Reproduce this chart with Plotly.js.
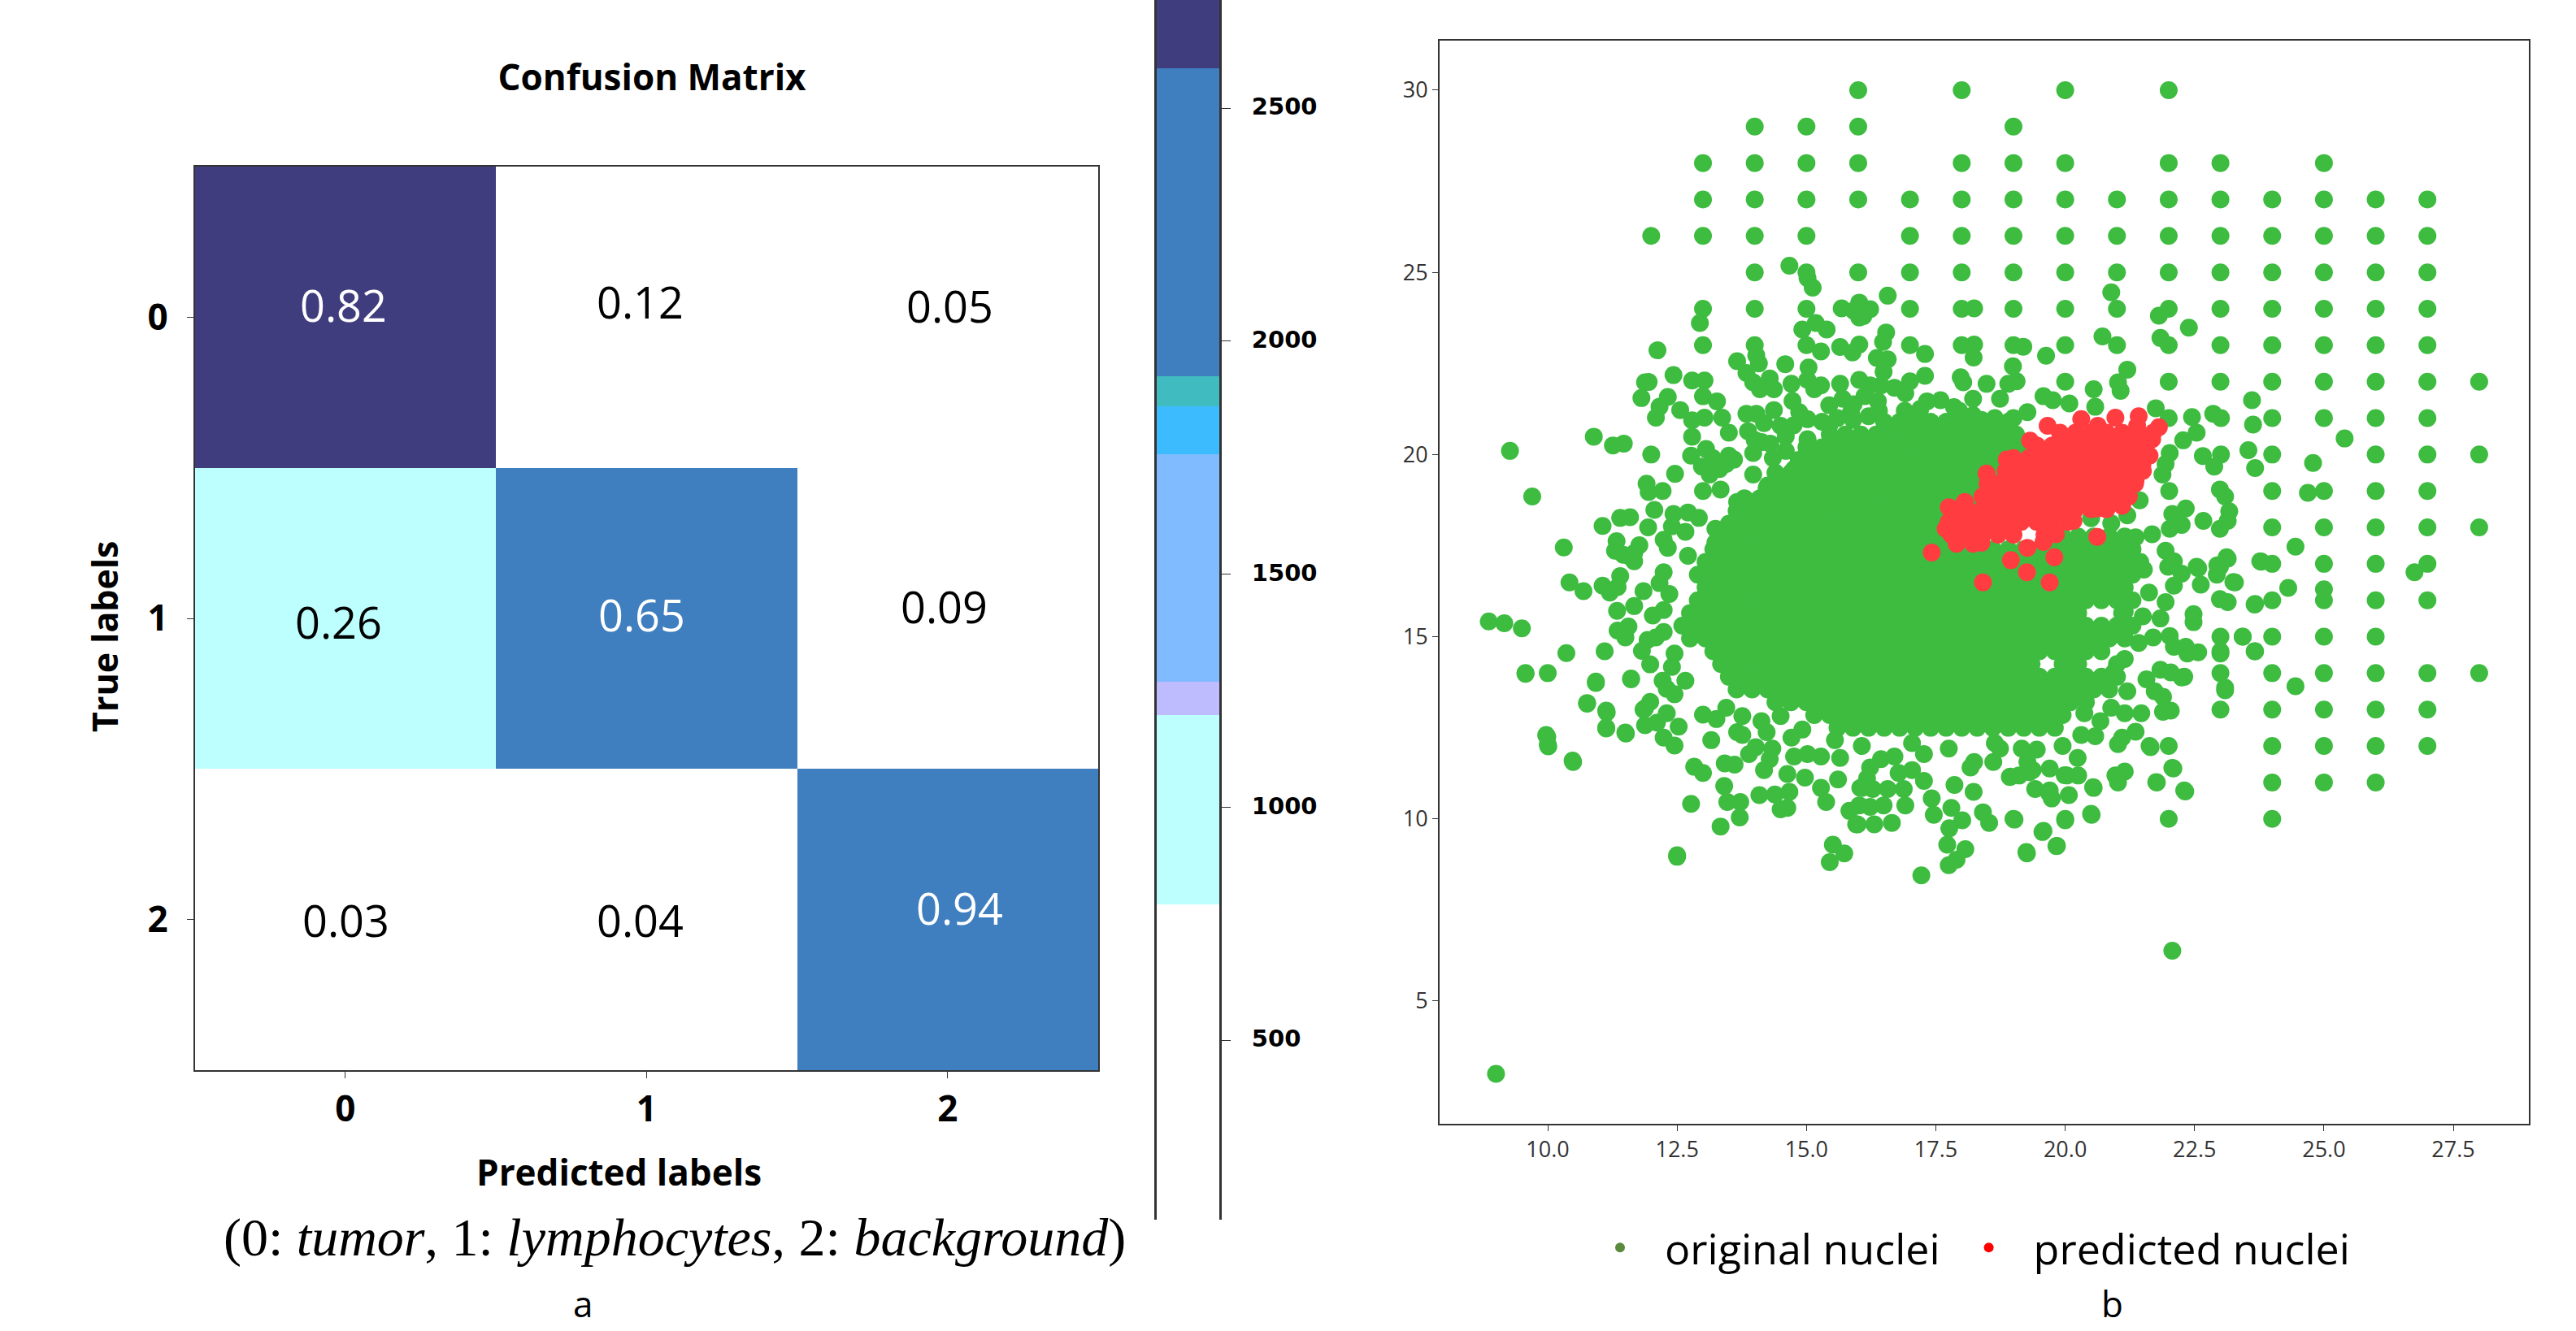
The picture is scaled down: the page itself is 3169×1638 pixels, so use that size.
<!DOCTYPE html>
<html>
<head>
<meta charset="utf-8">
<script src="https://cdn.plot.ly/plotly-3.0.1.min.js"></script>
<style>html,body{margin:0;padding:0;background:#fff}</style>
</head>
<body>
<div id="myDiv"></div>
<script>
// confusion matrix
const predictedLabels = [0, 1, 2];
const trueLabels = [0, 1, 2];
const cellRatios = [
  [0.82, 0.12, 0.05],
  [0.26, 0.65, 0.09],
  [0.03, 0.04, 0.94]
];
// counts are estimated from the colour of each cell against the bar
const cellCounts = [
  [2650, 390, 160],
  [900, 2050, 280],
  [100, 130, 2300]
];

// colour bar bands
const bandEdges = [115, 791, 1197, 1269, 1757, 1861, 1925, 2585, 2732];
const bandColors = ['#ffffff', '#bdffff', '#bfbbff', '#80bbff', '#3dbbff', '#40bbbf', '#3f7ebf', '#403d7e'];
const barTicks = [500, 1000, 1500, 2000, 2500];

// nuclei lying on whole number positions: [y, x, x, ...]
const gridRows = [
  [30, 16, 18, 20, 22],
  [29, 14, 15, 16, 19],
  [28, 13, 14, 15, 16, 18, 19, 20, 22, 23, 25],
  [27, 13, 14, 15, 16, 17, 18, 19, 20, 21, 22, 23, 24, 25, 26, 27],
  [26, 12, 13, 14, 15, 17, 18, 19, 20, 21, 22, 23, 24, 25, 26, 27],
  [25, 14, 15, 16, 17, 18, 19, 20, 21, 22, 23, 24, 25, 26, 27],
  [24, 13, 14, 15, 17, 18, 19, 20, 21, 22, 23, 24, 25, 26, 27],
  [23, 13, 14, 15, 17, 18, 19, 20, 21, 22, 23, 24, 25, 26, 27],
  [22, 20, 22, 23, 24, 25, 26, 27, 28],
  [21, 22, 24, 25, 26, 27],
  [20, 12, 24, 26, 27, 28],
  [19, 24, 25, 26, 27],
  [18, 24, 25, 26, 27, 28],
  [17, 24, 25, 26, 27],
  [16, 24, 25, 26, 27],
  [15, 23, 24, 25, 26],
  [14, 10, 23, 24, 25, 26, 27, 28],
  [13, 23, 24, 25, 26, 27],
  [12, 24, 25, 26, 27],
  [11, 24, 25, 26],
  [10, 22, 24]
];

// the solid middle of the cloud, single points can't be told apart here: [y, x, x, ...]
const coreRows = [
  [20.9, 16.5,16.8,17.1,17.4,17.7,18.0,18.3,18.6,18.9],
  [20.55, 15.45,15.75,16.05,16.35,16.65,16.95,17.25,17.55,17.85,18.15,18.45,18.75,19.05],
  [20.2, 15.0,15.3,15.6,15.9,16.2,16.5,16.8,17.1,17.4,17.7,18.0,18.3,18.6,18.9,19.2],
  [19.85, 14.85,15.15,15.45,15.75,16.05,16.35,16.65,16.95,17.25,17.55,17.85,18.15,18.45,18.75,19.05],
  [19.5, 14.4,14.7,15.0,15.3,15.6,15.9,16.2,16.5,16.8,17.1,17.4,17.7,18.0,18.3,18.6,18.9],
  [19.15, 14.25,14.55,14.85,15.15,15.45,15.75,16.05,16.35,16.65,16.95,17.25,17.55,17.85,18.15,18.45,18.75],
  [18.8, 13.8,14.1,14.4,14.7,15.0,15.3,15.6,15.9,16.2,16.5,16.8,17.1,17.4,17.7,18.0,18.3,18.6],
  [18.45, 13.65,13.95,14.25,14.55,14.85,15.15,15.45,15.75,16.05,16.35,16.65,16.95,17.25,17.55,17.85,18.15],
  [18.1, 13.5,13.8,14.1,14.4,14.7,15.0,15.3,15.6,15.9,16.2,16.5,16.8,17.1,17.4,17.7,18.0],
  [17.75, 13.35,13.65,13.95,14.25,14.55,14.85,15.15,15.45,15.75,16.05,16.35,16.65,16.95,17.25,17.55,17.85,18.15,19.95,20.25,20.55,20.85,21.15],
  [17.4, 13.2,13.5,13.8,14.1,14.4,14.7,15.0,15.3,15.6,15.9,16.2,16.5,16.8,17.1,17.4,17.7,18.0,18.3,18.6,18.9,19.2,19.5,19.8,20.1,20.4,20.7,21.0,21.3],
  [17.05, 13.05,13.35,13.65,13.95,14.25,14.55,14.85,15.15,15.45,15.75,16.05,16.35,16.65,16.95,17.25,17.55,17.85,18.15,18.45,18.75,19.05,19.35,19.65,19.95,20.25,20.55,20.85,21.15,21.45],
  [16.7, 12.9,13.2,13.5,13.8,14.1,14.4,14.7,15.0,15.3,15.6,15.9,16.2,16.5,16.8,17.1,17.4,17.7,18.0,18.3,18.6,18.9,19.2,19.5,19.8,20.1,20.4,20.7,21.0,21.3],
  [16.35, 13.05,13.35,13.65,13.95,14.25,14.55,14.85,15.15,15.45,15.75,16.05,16.35,16.65,16.95,17.25,17.55,17.85,18.15,18.45,18.75,19.05,19.35,19.65,19.95,20.25,20.55,20.85,21.15],
  [16.0, 12.9,13.2,13.5,13.8,14.1,14.4,14.7,15.0,15.3,15.6,15.9,16.2,16.5,16.8,17.1,17.4,17.7,18.0,18.3,18.6,18.9,19.2,19.5,19.8,20.1,20.4,20.7,21.0,21.3],
  [15.65, 12.75,13.05,13.35,13.65,13.95,14.25,14.55,14.85,15.15,15.45,15.75,16.05,16.35,16.65,16.95,17.25,17.55,17.85,18.15,18.45,18.75,19.05,19.35,19.65,19.95,20.25,21.1],
  [15.3, 12.6,12.9,13.2,13.5,13.8,14.1,14.4,14.7,15.0,15.3,15.6,15.9,16.2,16.5,16.8,17.1,17.4,17.7,18.0,18.3,18.6,18.9,19.2,19.5,19.8,20.1,20.4,20.7,21.0,21.3],
  [14.95, 12.75,13.05,13.35,13.65,13.95,14.25,14.55,14.85,15.15,15.45,15.75,16.05,16.35,16.65,16.95,17.25,17.55,17.85,18.15,18.45,18.75,19.05,19.35,19.65,19.95,20.25,20.55,20.85,21.15],
  [14.6, 13.2,13.5,13.8,14.1,14.4,14.7,15.0,15.3,15.6,15.9,16.2,16.5,16.8,17.1,17.4,17.7,18.0,18.3,18.6,18.9,19.2,19.5,19.8,20.1,20.4,20.7],
  [14.25, 13.35,13.65,13.95,14.25,14.55,14.85,15.15,15.45,15.75,16.05,16.35,16.65,16.95,17.25,17.55,17.85,18.15,18.45,18.75,19.05,19.35,19.95,20.25,21.0],
  [13.9, 13.5,13.8,14.1,14.4,14.7,15.0,15.3,15.6,15.9,16.2,16.5,16.8,17.1,17.4,17.7,18.0,18.3,18.6,18.9,19.2,19.5,19.8,20.1,20.4,20.7,21.0],
  [13.55, 13.65,13.95,14.25,14.55,14.85,15.15,15.45,15.75,16.05,16.35,16.65,16.95,17.25,17.55,17.85,18.15,18.45,18.75,19.05,19.35,19.65,19.95,20.25,20.55,20.85],
  [13.2, 14.4,14.7,15.0,15.3,15.6,15.9,16.2,16.5,16.8,17.1,17.4,17.7,18.0,18.3,18.6,18.9,19.2,19.5,19.8,20.1,20.4],
  [12.85, 15.15,15.45,15.75,16.05,16.35,16.65,16.95,17.25,17.55,17.85,18.15,18.45,18.75,19.05,19.35,19.65,19.95],
  [12.5, 15.6,15.9,16.2,16.5,16.8,17.1,17.4,17.7,18.0,18.3,18.6,18.9,19.2,19.5,19.8]
];

// single nuclei around the core: [x, y]
const scatteredNuclei = [
  [14.67,25.18],[15.02,24.84],[15.12,24.58],[12.94,23.61],[12.12,22.86],[14.92,23.43],[15.18,23.61],[15.39,23.43],[15.28,22.83],
  [15.68,24.01],[15.91,23.95],[16.02,24.17],[16.02,23.76],[15.65,22.95],[15.89,22.8],[16.02,23.02],[13.66,22.56],[14.03,22.72],[14.08,22.5],
  [14.59,22.48],[15.04,22.39],[11.95,21.99],[11.88,21.98],[12.43,22.18],[12.79,22.03],[13.03,22.03],[13.84,22.24],[13.97,21.98],[14.29,22.09],
  [14.1,21.79],[14.37,21.79],[14.71,21.94],[15.02,22.05],[15.15,21.79],[15.28,21.9],[15.65,21.94],[16.02,22.05],[11.81,21.55],[12.32,21.58],
  [12.16,21.31],[12.09,21.01],[12.56,21.22],[13,21.6],[13.27,21.46],[13.03,21.01],[13.37,21.01],[12.79,20.94],[13.84,21.12],[14.03,21.12],
  [14.37,21.22],[14.73,21.47],[14.86,21.16],[15.02,20.97],[15.44,21.35],[15.7,21.53],[15.91,21.38],[13.5,20.6],[12.79,20.49],[13.87,20.64],
  [14.18,20.86],[14.5,20.79],[10.89,20.49],[11.26,20.25],[11.47,20.3],[9.27,20.1],[12.46,19.47],[13.06,20.15],[12.77,19.97],[13.5,19.97],
  [13.6,19.86],[13.19,19.9],[12.98,19.67],[13.32,19.6],[13.45,19.74],[13.13,19.45],[13.97,20.04],[13.97,19.45],[14.13,20.34],[15.02,20.42],
  [14.3,20.3],[14.6,20.5],[14.35,19.9],[14.6,20.1],[14.0,20.4],[14.75,20.8],[15.3,20.9],[15.6,21.0],[15.9,20.95],[16.2,21.05],[15.44,20.79],[15.86,21.16],
  [16.4,21.2],[16.9,21.2],[17.2,21.25],[17.95,21.2],[18.38,20.95],
  [11.91,19.2],[12.22,19],[11.95,18.97],[13,19],[13.34,19.04],[9.7,18.85],[12.06,18.48],[12.43,18.37],[11.4,18.26],[11.59,18.28],
  [11.06,18.04],[11.94,18],[11.33,17.62],[10.31,17.45],[11.77,17.51],[11.67,17.29],[11.46,17.25],[11.3,17.36],[12.24,17.66],[12.32,17.44],
  [12.4,18.03],[12.71,18.41],[12.92,18.26],[12.66,17.88],[13.24,17.58],[12.71,17.22],[13.24,17.96],[13.66,18.7],[13.97,18.7],[13.66,18.03],
  [14.23,19.08],[14.5,19.37],[14.76,19.6],
  [10.42,16.49],[10.69,16.25],[11.06,16.4],[11.2,16.21],[11.4,16.66],[11.35,16.36],[11.67,17.07],[11.56,17.22],[11.34,15.71],[11.67,15.84],
  [11.85,16.25],[12.24,16.77],[12.16,16.47],[12.35,16.17],[12.03,15.58],[12.24,15.73],[8.86,15.42],[9.16,15.37],[9.5,15.23],[11.35,15.17],
  [11.56,15.28],[11.5,14.98],[12.24,15.13],[11.93,14.91],[12.09,14.98],[11.82,14.61],[10.36,14.55],[11.1,14.6],[9.57,13.98],[11.98,14.24],
  [12.45,14.54],[12.4,14.17],[12.22,13.79],[12.66,13.79],[12.45,13.42],[12.3,13.57],[10.93,13.73],[11.61,13.83],[10.76,13.16],[11.14,12.92],
  [11.13,12.48],[11.51,12.34],[11.98,13.21],[11.85,13],[11.88,12.57],[12.11,12.64],[12.3,12.9],[12.53,12.53],[12.24,12.23],[12.45,12.01],
  [9.99,12.25],[10.01,11.99],[10.49,11.56],[13,12.86],[13.26,12.74],[13.45,13.05],[13.66,12.38],[13.76,12.3],[13.16,12.16],[13.89,11.78],
  [14.02,11.97],[14.34,11.93],[14.23,12.38],[14.13,12.68],[13.76,12.82],[14.18,11.34],[14.29,11.64],[13.42,11.52],[13.61,11.49],[12.83,11.43],
  [13,11.26],[13.41,10.9],[13.47,10.46],[13.72,10.46],[13.71,10.04],[13.34,9.79],[12.77,10.41],[14.09,10.65],[14.39,10.67],[14.67,10.74],
  [14.5,10.26],[14.63,10.3],[14.63,11.23],[14.97,11.13],[14.76,11.71],[15.02,11.78],[15.28,11.71],[15.55,12.16],[15.65,11.67],[15.28,10.85],
  [15.61,11.08],[15.38,10.46],[16.07,12],[16.04,10.85],[15.83,10.22],[16.02,10.37],[15.96,9.85],[15.51,9.29],[15.73,9.05],[15.45,8.81],
  [12.5,8.96],[14.5,12.82],[14.92,12.45],[14.71,12.23],
  [16.23,11.41],[16.44,11.64],[16.7,11.71],[16.17,11.11],[16.07,10.85],[16.28,10.82],[16.57,10.82],[16.88,10.82],[16.78,11.26],[17.04,11.34],
  [17.04,12.08],[17.27,11.78],[17.27,11.04],[17.42,10.56],[16.91,10.37],[16.49,10.37],[16.23,10.33],[15.99,9.85],[16.31,9.85],[16.65,9.89],
  [17.75,11.93],[17.86,10.93],[18.23,10.74],[18.24,11.56],[18.17,11.41],[18.64,12.08],[18.61,11.56],[18.74,11.93],[19.16,11.93],[19.45,11.9],
  [19.27,11.56],[18.93,11.15],[19.11,11.19],[19.37,11.34],[19.7,11.38],[19.42,10.82],[19.7,10.78],[19.74,10.56],[20.07,10.65],[20.03,11.19],
  [20.25,11.19],[20.24,11.67],[20.55,10.85],[20.51,10.11],[20,9.96],[19.95,12],[20.31,12.3],[20.58,12.27],[20.68,12.68],[21.02,12.05],
  [21.1,12.23],[21.36,12.39],[21.65,11.97],[22,12],[22.09,11.38],[21.77,11],[22.32,10.75],[21.15,11.3],[20.97,11.19],[21.02,11],
  [20.37,12.9],[20.89,13.05],[21.15,12.9],[21.47,12.9],[21.89,12.94],[22.04,12.97],[21.89,13.35],[21.73,13.5],[21.2,13.5],[21.57,13.83],
  [21.84,14.09],[22.25,13.88],[22.04,14.02],[20.94,14.02],[23.09,13.53],[23,14.54],[23.43,15],[23.66,14.6],[22.36,14.54],[22.57,14.57],
  [22.33,14.72],[22.02,15.02],[21.7,14.98],[21.42,14.83],[22.1,14.72],[21.15,14.39],[21.15,15.69],[21.5,15.56],[21.84,15.5],[21.94,15.95],
  [21.62,16.21],[22.1,16.4],[22.48,15.62],[22.48,15.4],[22.99,16.03],[23.14,15.95],[23.28,16.49],[23.66,15.88],[22.62,16.43],[22.57,16.88],
  [22.25,16.73],[22.93,16.7],[22.99,16.92],[23.14,17.14],[23.77,17.07],[21.99,16.92],[21.52,16.84],[18.41,10.18],[18.53,9.89],[19.02,9.98],
  [19.56,9.64],[19.83,9.25],[19.26,9.05],[17.8,10.3],[17.46,10.11],[18.01,9.96],[17.76,9.74],[17.72,9.29],[18.07,9.17],[17.9,8.88],
  [17.75,8.73],[17.22,8.45],[16.57,24.36],[16.07,24.02],[16.23,23.99],[16.1,23.8],[18.24,24.01],[20.89,24.45],[21.81,23.81],[22.39,23.48],
  [16.54,23.35],[16.48,23.09],[17.29,22.76],[18.24,23.02],[18.23,22.66],[19.19,22.96],[19.63,22.71],[20.72,23.24],[21.84,23.2],[16.36,22.65],
  [16.57,22.61],[18.99,22.42],[21.2,22.33],[16.49,22.27],[17.29,22.16],[17,22.01],[17.98,22.12],[18.03,21.98],[18.48,21.94],[18.9,21.94],
  [19.06,22.01],[21.02,21.98],[21.07,21.75],[20.55,21.79],[19.58,21.6],[19.76,21.49],[20.08,21.4],[20.58,21.31],[23.61,21.49],[16.91,21.68],
  [16.7,21.83],[16.44,21.9],[16.23,21.9],[16.12,21.6],[16.38,21.46],[17.33,21.46],[17.59,21.49],[17.85,21.3],[18.22,21.53],[18.74,21.53],
  [19.27,21.16],[19,21],[18.22,21.08],[18.64,21],[21.75,21.27],[22.45,21.03],[22.86,21.12],[23.01,21],[23.63,20.82],[22.54,20.6],
  [22.28,20.39],[22.02,20.04],[21.94,19.74],[21.88,19.45],[22.01,19],[22.66,19.96],[23.01,20],[22.88,19.67],[23.54,20.12],[23.67,19.63],
  [22.99,19.04],[23.09,18.85],[23.17,18.44],[23.14,18.18],[22.99,17.96],[22.67,18.18],[22.33,18.52],[22.07,18.37],[22.25,18.07],[22.02,17.96],
  [21.68,17.81],[21.44,18.74],[21.36,17.73],[21.94,17.36],[22.1,17.07],[22.54,16.92],[23.12,17.18],[22.94,16.96],[21.2,18.33],[20.89,18.11],
  [20.5,18.25],[25.4,20.44],[24.79,19.77],[24.69,18.95],[24.45,17.47],[23.79,17.06],[23.25,16.5],[24.31,16.34],[26.75,16.77],[23.67,15.9],
  [25,16.3],[23.43,15],[23.67,14.6],[23,14.6],[24.45,13.64],[23.09,13.6],[22.3,13.9],[9.57,14],[10.93,13.77],[11.61,13.85],
  [10.76,13.18],[11.13,12.97],[11.13,12.5],[11.5,12.37],[11.88,13.03],[9.97,12.3],[10,12.04],[10.48,11.6],[12.5,9],[9,3],[22.07,6.38],
  [19,10],[20,10],[20.5,10.14],[19.58,9.67],[19.84,9.26],[19.25,9.09],[22.3,10.78],[22.07,11.4],[21.63,12],[21.76,11.01],
  [20.54,10.87],[19.99,11.2],[19.69,10.7],[18.94,11.16],[19.31,11.28]
];

// predicted nuclei: [y, x, x, ...] for the solid patch, then the loose ones as [x, y]
const predictedRows = [
  [20.6, 19.9,20.2,20.5,20.8,21.1,21.4,21.7],
  [20.25, 19.45,19.75,20.05,20.35,20.65,20.95,21.25,21.55],
  [19.9, 19.0,19.3,19.6,19.9,20.2,20.5,20.8,21.1,21.4],
  [19.55, 18.85,19.15,19.45,19.75,20.05,20.35,20.65,20.95,21.25,21.5],
  [19.2, 18.5,18.7,19.0,19.3,19.6,19.9,20.2,20.5,20.8,21.1,21.35],
  [18.85, 18.4,18.55,18.85,19.15,19.45,19.75,20.05,20.35,20.65,20.95,21.2],
  [18.5, 17.9,18.1,18.4,18.7,19.0,19.3,19.6,19.9,20.2,20.5,20.8],
  [18.15, 17.75,17.95,18.25,18.55,18.85,19.15,19.45,19.75,20.05],
  [17.8, 17.8,18.1,18.4,18.7,19.0,19.6]
];
const predictedLoose = [
  [17.75,18.55],[18.06,18.7],[17.69,17.96],[17.9,17.55],[18.22,17.55],[18.38,17.58],[18.48,19.48],[18.87,19.86],[19.32,20.38],[19.66,20.79],
  [20.31,20.97],[20.63,20.79],[20.97,21.01],[21.42,21.05],[21.39,20.79],[21.81,20.75],[21.68,20.42],[21.63,19.97],[21.49,19.71],[21.36,19.3],
  [21.23,18.85],[21.1,18.59],[20.63,18.52],[20.16,18.18],[19.82,17.81],[19.58,17.6],[19.27,17.44],[18.95,17.1],[17.42,17.31],[19.79,17.18],
  [20.62,17.74],[18.41,16.49],[19.26,16.77],[19.7,16.49]
];

let originalX = [];
let originalY = [];
for (const row of gridRows.concat(coreRows)) {
  for (let i = 1; i < row.length; i++) {
    originalX.push(row[i]);
    originalY.push(row[0]);
  }
}
for (const p of scatteredNuclei) {
  originalX.push(p[0]);
  originalY.push(p[1]);
}
let predictedX = [];
let predictedY = [];
for (const row of predictedRows) {
  for (let i = 1; i < row.length; i++) {
    predictedX.push(row[i]);
    predictedY.push(row[0]);
  }
}
for (const p of predictedLoose) {
  predictedX.push(p[0]);
  predictedY.push(p[1]);
}

// picture pixels to paper fractions
const W = 3169, H = 1638;
const px = v => v / W;
const py = v => 1 - v / H;

const barMin = bandEdges[0];
const barMax = bandEdges[bandEdges.length - 1];
let bandScale = [];
for (let i = 0; i < bandColors.length; i++) {
  bandScale.push([(bandEdges[i] - barMin) / (barMax - barMin), bandColors[i]]);
  bandScale.push([(bandEdges[i + 1] - barMin) / (barMax - barMin), bandColors[i]]);
}
let barZ = [];
for (let i = 0; i < bandColors.length; i++) {
  barZ.push([(bandEdges[i] + bandEdges[i + 1]) / 2]);
}

const axisColor = '#333333';
const textFont = 'Open Sans';

const data = [
  {
    type: 'heatmap', x: predictedLabels, y: trueLabels, z: cellCounts,
    colorscale: bandScale, zmin: barMin, zmax: barMax, showscale: false,
    xaxis: 'x', yaxis: 'y'
  },
  {
    type: 'heatmap', x: [0], y: bandEdges, z: barZ,
    colorscale: bandScale, zmin: barMin, zmax: barMax, showscale: false,
    xaxis: 'x2', yaxis: 'y2'
  },
  {
    type: 'scatter', mode: 'markers', x: originalX, y: originalY, showlegend: false,
    marker: {color: '#3dbc40', size: 22}, xaxis: 'x3', yaxis: 'y3'
  },
  {
    type: 'scatter', mode: 'markers', x: predictedX, y: predictedY, showlegend: false,
    marker: {color: '#ff3d41', size: 22}, xaxis: 'x3', yaxis: 'y3'
  },
  {
    type: 'scatter', mode: 'markers', x: [null], y: [null], name: 'original nuclei',
    marker: {color: '#5a8a3c', size: 18}, xaxis: 'x3', yaxis: 'y3'
  },
  {
    type: 'scatter', mode: 'markers', x: [null], y: [null], name: 'predicted nuclei',
    marker: {color: '#ff0000', size: 18}, xaxis: 'x3', yaxis: 'y3'
  }
];

// the numbers in the reference sit a little off the cell centres
const shiftX = [[-2, -8, 3], [-8, -6, -4], [1, -8, 15]];
const shiftY = [[15, 19, 14], [-4, 5, 15], [0, 0, 15]];
let annotations = [];
for (let r = 0; r < trueLabels.length; r++) {
  for (let c = 0; c < predictedLabels.length; c++) {
    annotations.push({
      xref: 'x', yref: 'y', x: predictedLabels[c], y: trueLabels[r],
      xshift: shiftX[r][c], yshift: shiftY[r][c],
      text: cellRatios[r][c].toFixed(2), showarrow: false,
      font: {family: textFont, size: 54, color: cellCounts[r][c] > 1900 ? '#ffffff' : '#000000'}
    });
  }
}
function note(text, x, y, font, angle) {
  annotations.push({
    xref: 'paper', yref: 'paper', x: px(x), y: py(y), xanchor: 'center', yanchor: 'middle',
    text: text, showarrow: false, font: font, textangle: angle || 0
  });
}
note('Predicted labels', 761, 1442, {family: textFont, size: 44, weight: 700, color: '#000'});
note('True labels', 128, 784, {family: textFont, size: 43, weight: 700, color: '#000'}, -90);
note('(0: <i>tumor</i>, 1: <i>lymphocytes</i>, 2: <i>background</i>)', 830, 1523, {family: 'Liberation Serif', size: 66, color: '#000'});
note('a', 717, 1604, {family: textFont, size: 44, color: '#000'});
note('b', 2598, 1604, {family: textFont, size: 44, color: '#000'});

const layout = {
  width: W, height: H, autosize: false,
  margin: {l: 0, r: 0, t: 0, b: 0, pad: 0},
  paper_bgcolor: '#ffffff', plot_bgcolor: '#ffffff',
  title: {
    text: 'Confusion Matrix', x: px(802), y: py(96), xanchor: 'center', yanchor: 'middle',
    font: {family: textFont, size: 44, weight: 700, color: '#000'}
  },
  xaxis: {
    domain: [px(239.5), px(1351)], range: [-0.5, 2.5], tickvals: predictedLabels, ticks: 'outside', ticklen: 8,
    tickcolor: axisColor, showline: true, mirror: true, linecolor: axisColor, linewidth: 2, showgrid: false, zeroline: false,
    tickfont: {family: textFont, size: 44, weight: 700, color: '#000'}, ticklabelstandoff: 0
  },
  yaxis: {
    domain: [py(1317), py(205)], range: [2.5, -0.5], tickvals: trueLabels, ticks: 'outside', ticklen: 8,
    tickcolor: axisColor, showline: true, mirror: true, linecolor: axisColor, linewidth: 2, showgrid: false, zeroline: false,
    tickfont: {family: textFont, size: 44, weight: 700, color: '#000'}, ticklabelstandoff: 14
  },
  xaxis2: {
    domain: [px(1423), px(1500)], range: [-0.5, 0.5], anchor: 'y2', visible: false
  },
  yaxis2: {
    domain: [py(1501), py(0)], range: [barMin, barMax], anchor: 'x2', side: 'right', tickvals: barTicks,
    ticks: 'outside', ticklen: 11, tickcolor: axisColor, showline: true, mirror: true, linecolor: axisColor, linewidth: 3,
    showgrid: false, zeroline: false, ticklabelstandoff: 20, ticklabelshift: -2,
    tickfont: {family: 'DejaVu Sans', size: 29, weight: 700, color: '#000'}
  },
  xaxis3: {
    domain: [px(1771), px(3111)], range: [7.91, 28.96], anchor: 'y3', tick0: 10, dtick: 2.5, tickformat: '.1f',
    ticks: 'outside', ticklen: 7, tickcolor: axisColor, showline: true, mirror: true, linecolor: axisColor, linewidth: 2,
    showgrid: false, zeroline: false, tickfont: {family: textFont, size: 27, color: '#333'}
  },
  yaxis3: {
    domain: [py(1383), py(50)], range: [1.63, 31.36], anchor: 'x3', tick0: 5, dtick: 5,
    ticks: 'outside', ticklen: 7, tickcolor: axisColor, showline: true, mirror: true, linecolor: axisColor, linewidth: 2,
    showgrid: false, zeroline: false, tickfont: {family: textFont, size: 27, color: '#333'}
  },
  legend: {
    orientation: 'h', x: px(1938), y: py(1495), xanchor: 'left', yanchor: 'top', bgcolor: 'rgba(0,0,0,0)',
    font: {family: textFont, size: 52, color: '#000'}, itemsizing: 'constant', itemwidth: 100
  },
  showlegend: true,
  annotations: annotations
};

Plotly.newPlot('myDiv', data, layout, {displayModeBar: false});
</script>
</body>
</html>
